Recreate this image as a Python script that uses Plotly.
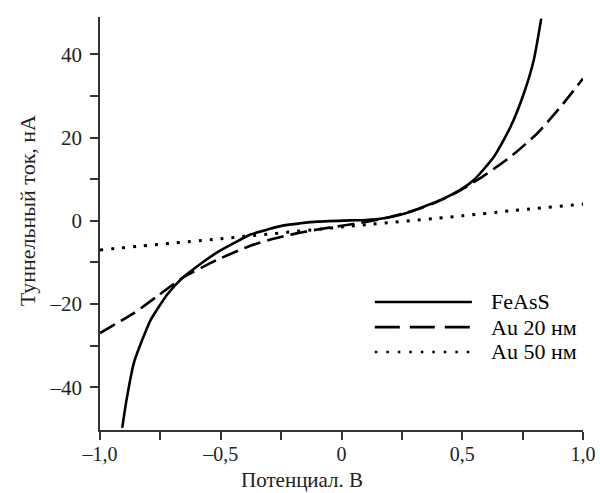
import plotly.graph_objects as go

# Data
fe_x = [-0.908, -0.89, -0.86, -0.825, -0.79, -0.72, -0.66, -0.58, -0.515, -0.44, -0.377, -0.3, -0.239, -0.17, -0.1,
        0.037, 0.1, 0.175, 0.24, 0.286, 0.35, 0.424, 0.49, 0.548, 0.631, 0.70, 0.755, 0.796, 0.827]
fe_y = [-49.8, -43.0, -34.2, -28.6, -23.8, -17.6, -13.8, -10.2, -7.6, -5.2, -3.3, -2.0, -1.1, -0.6, -0.2,
        0.1, 0.2, 0.6, 1.4, 2.2, 3.6, 5.4, 7.4, 9.8, 15.4, 22.6, 30.6, 38.6, 48.6]

au20_x = [-1.0, -0.86, -0.76, -0.66, -0.515, -0.377, -0.3, -0.2, -0.1, 0.0, 0.1, 0.2, 0.3,
          0.382, 0.45, 0.52, 0.589, 0.70, 0.81, 0.907, 1.0]
au20_y = [-27.0, -22.2, -18.0, -13.8, -9.4, -6.0, -4.6, -3.2, -2.1, -1.2, -0.3, 0.9, 2.5,
          4.2, 6.0, 8.3, 10.8, 15.4, 21.0, 27.4, 34.2]

au50_x = [-1.0, -0.5, 0.0, 0.5, 0.7, 1.0]
au50_y = [-7.0, -4.3, -1.5, 1.2, 2.4, 4.0]

series_names = ["FeAsS", "Au 20 нм", "Au 50 нм"]
x_title = "Потенциал. В"
y_title = "Туннельный ток, нА"

x_tickvals = [-1.0, -0.75, -0.5, -0.25, 0.0, 0.25, 0.5, 0.75, 1.0]
x_ticktext = ["\u20131,0", "", "\u20130,5", "", "0", "", "0,5", "", "1,0"]
y_tickvals = [-40, -30, -20, -10, 0, 10, 20, 30, 40]
y_ticktext = ["\u201340", "", "\u201320", "", "0", "", "20", "", "40"]

FONT = "Liberation Serif"
TXT = "#222"
styles = [
    dict(color="black", width=2.6, dash="solid"),
    dict(color="black", width=2.6, dash="17px,7px"),
    dict(color="black", width=3, dash="3px,8px"),
]
legend_styles = [
    dict(color="black", width=2.6, dash="solid"),
    dict(color="black", width=2.6, dash="25px,10px"),
    dict(color="black", width=2.5, dash="2.5px,9px"),
]

fig = go.Figure()
for xs, ys, name, st in zip([fe_x, au20_x, au50_x], [fe_y, au20_y, au50_y], series_names, styles):
    fig.add_trace(go.Scatter(x=xs, y=ys, mode="lines", name=name,
                             line=dict(shape="spline", smoothing=0.6, **st),
                             showlegend=False))

# Manual legend (long line samples like the reference)
leg_y = [0.310, 0.249, 0.189]
for name, st, yy in zip(series_names, legend_styles, leg_y):
    fig.add_shape(type="line", xref="paper", yref="paper", x0=0.569, x1=0.770, y0=yy, y1=yy,
                  line=st)
    fig.add_annotation(xref="paper", yref="paper", x=0.805, y=yy, text=name, showarrow=False,
                       xanchor="left", yanchor="middle", font=dict(family=FONT, size=22, color="black"))

# Axis titles placed as in the reference
fig.add_annotation(xref="paper", yref="paper", x=0.418, y=-0.121, text=x_title, showarrow=False,
                   xanchor="center", yanchor="middle", font=dict(family=FONT, size=21, color=TXT))
fig.add_annotation(xref="paper", yref="paper", x=-0.151, y=0.530, text=y_title, showarrow=False,
                   textangle=-90, xanchor="center", yanchor="middle",
                   font=dict(family=FONT, size=22, color=TXT))

axis_common = dict(
    showgrid=False, zeroline=False, showline=True, linecolor="#333", linewidth=1.6,
    ticks="outside", ticklen=8, tickwidth=1.6, tickcolor="#333", automargin=False,
)

fig.update_layout(
    width=600, height=493,
    margin=dict(l=100, r=17, t=17, b=63),
    paper_bgcolor="white", plot_bgcolor="white",
    font=dict(family=FONT, size=21, color=TXT),
    xaxis=dict(range=[-1.0, 1.0], tickmode="array", tickvals=x_tickvals, ticktext=x_ticktext,
               ticklabelstandoff=-3, tickfont=dict(family=FONT, size=20, color=TXT), **axis_common),
    yaxis=dict(range=[-50.3, 49.0], tickmode="array", tickvals=y_tickvals, ticktext=y_ticktext,
               ticklabelstandoff=4, tickfont=dict(family=FONT, size=21, color=TXT), **axis_common),
)

fig.write_html("out.html")
